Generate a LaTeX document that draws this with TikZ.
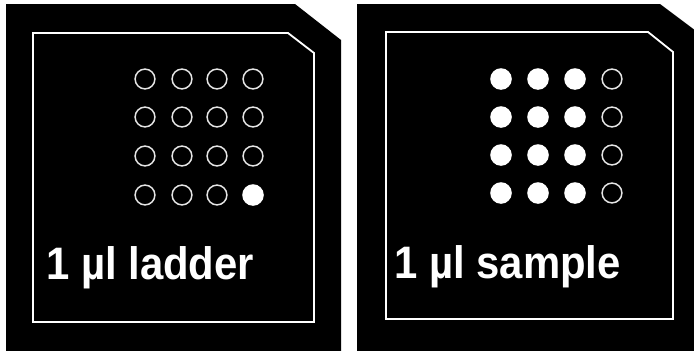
\documentclass[tikz,border=0pt]{standalone}
\usepackage{fontspec}
\newfontfamily\condfont[FakeStretch=0.92]{Liberation Sans}
\begin{document}
\begin{tikzpicture}[x=1pt,y=-1pt,
  panel/.style={fill=black,draw=none},
  frame/.style={draw=white,line width=1.8pt},
  well/.style={circle,draw=white!90!black,line width=1.5pt,minimum size=19.8pt,inner sep=0pt},
  filled/.style={circle,fill=white,draw=none,minimum size=21.6pt,inner sep=0pt},
  label/.style={text=white,font=\condfont\bfseries\fontsize{45.5}{48}\selectfont,inner sep=0pt,anchor=base west}]
\useasboundingbox (0,0) rectangle (694,351);
\fill[white] (0,0) rectangle (694,351);
% left chip
\path[panel] (6,4) -- (295,4) -- (341,40) -- (341,351) -- (6,351) -- cycle;
\draw[frame] (33,33) -- (288,33) -- (314,53) -- (314,322) -- (33,322) -- cycle;
% right chip
\path[panel] (357,4) -- (660,4) -- (700,34) -- (700,351) -- (357,351) -- cycle;
\draw[frame] (386,32) -- (648,32) -- (673,52) -- (673,319) -- (386,319) -- cycle;
% left wells
\foreach \r/\y in {1/79,2/117,3/156,4/195}{
  \foreach \c/\x in {1/145,2/182,3/217,4/253}{
    \ifnum\r\c=44
      \node[filled] (L\r\c) at (\x,\y) {};
    \else
      \node[well] (L\r\c) at (\x,\y) {};
    \fi
  }
}
% right wells
\foreach \r/\y in {1/79,2/117,3/155,4/193}{
  \foreach \c/\x in {1/501,2/538,3/575}{
    \node[filled] (R\r\c) at (\x,\y) {};
  }
  \node[well] (R\r4) at (612,\y) {};
}
\node[label] (ladder) at (46,279) {1 µl ladder};
\node[label] (sample) at (394,278) {1 µl sample};
\end{tikzpicture}
\end{document}
